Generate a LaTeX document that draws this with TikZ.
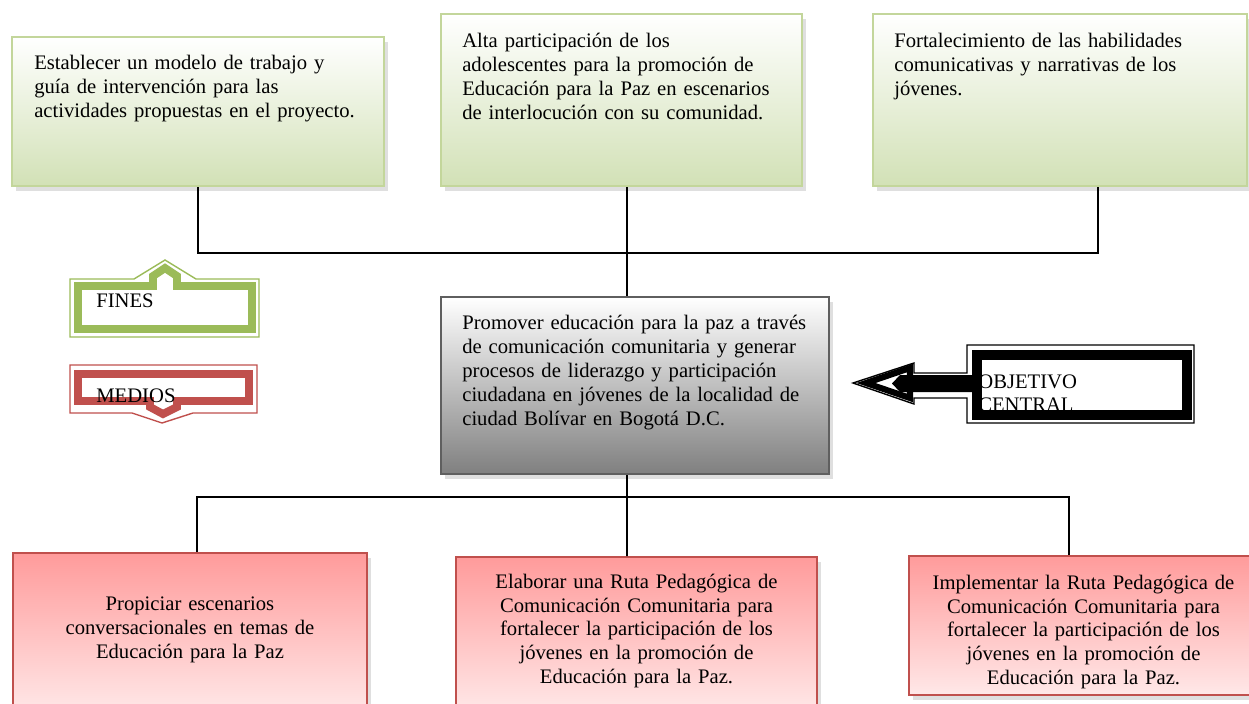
\documentclass[tikz,border=0pt]{standalone}
\usepackage{fontspec}
\setmainfont{Liberation Serif}
\usetikzlibrary{shadows}

\definecolor{fingreen}{RGB}{155,187,89}
\definecolor{finborder}{RGB}{195,214,155}
\definecolor{finbottom}{RGB}{210,225,182}
\definecolor{medred}{RGB}{192,80,77}
\definecolor{medtop}{RGB}{255,155,155}
\definecolor{medbottom}{RGB}{255,232,232}
\definecolor{objborder}{RGB}{95,95,95}

\tikzset{
	boxshadow/.style={drop shadow={shadow xshift=2.5pt, shadow yshift=-3pt, opacity=.25}},
	finbox/.style={draw=finborder, line width=1.2pt, top color=white, bottom color=finbottom, boxshadow},
	objbox/.style={draw=objborder, line width=1.2pt, top color=white, bottom color=black!50, boxshadow},
	medbox/.style={draw=medred, line width=1pt, top color=medtop, bottom color=medbottom, boxshadow},
	boxtext/.style={font=\fontsize{11.75}{13.6}\selectfont, inner sep=0pt, anchor=base west, align=left, text width=7.2cm},
	medtext/.style={font=\fontsize{11.75}{13.6}\selectfont, inner sep=0pt, anchor=base, align=center, text width=6.8cm},
	conn/.style={draw, line width=1.1pt},
}

\begin{document}
\begin{tikzpicture}[x=0.02cm, y=-0.02cm]
	\useasboundingbox (0,0) rectangle (1249,704);

	%fines
	\node[finbox, minimum width=7.44cm, minimum height=2.98cm] (fin1) at (198,111.5) {};
	\node[finbox, minimum width=7.22cm, minimum height=3.44cm] (fin2) at (621.5,100) {};
	\node[finbox, minimum width=7.48cm, minimum height=3.44cm] (fin3) at (1060,100) {};
	\node[boxtext] (fin1txt) at ([shift={(0.46cm,-0.68cm)}]fin1.north west) {Establecer un modelo de trabajo y\\ guía de intervención para las\\ actividades propuestas en el proyecto.};
	\node[boxtext] (fin2txt) at ([shift={(0.44cm,-0.7cm)}]fin2.north west) {Alta participación de los\\ adolescentes para la promoción de\\ Educación para la Paz en escenarios\\ de interlocución con su comunidad.};
	\node[boxtext] (fin3txt) at ([shift={(0.44cm,-0.7cm)}]fin3.north west) {Fortalecimiento de las habilidades\\ comunicativas y narrativas de los\\ jóvenes.};

	%objetivo
	\node[objbox, minimum width=7.76cm, minimum height=3.54cm] (obj) at (635,385.5) {};
	\node[boxtext] (objtxt) at ([shift={(0.44cm,-0.68cm)}]obj.north west) {Promover educación para la paz a través\\ de comunicación comunitaria y generar\\ procesos de liderazgo y participación\\ ciudadana en jóvenes de la localidad de\\ ciudad Bolívar en Bogotá D.C.};

	%medios
	\node[medbox, minimum width=7.08cm, minimum height=3.2cm] (med1) at (190,633) {};
	\node[medbox, minimum width=7.22cm, minimum height=3.1cm] (med2) at (636.5,634.5) {};
	\node[medbox, minimum width=6.84cm, minimum height=2.78cm] (med3) at (1080,625.5) {};
	\node[medtext] (med1txt) at ([yshift=-1.17cm]med1.north) {Propiciar escenarios\\ conversacionales en temas de\\ Educación para la Paz};
	\node[medtext] (med2txt) at ([yshift=-0.64cm]med2.north) {Elaborar una Ruta Pedagógica de\\ Comunicación Comunitaria para\\ fortalecer la participación de los\\ jóvenes en la promoción de\\ Educación para la Paz.};
	\node[medtext] (med3txt) at ([shift={(0.07cm,-0.68cm)}]med3.north) {Implementar la Ruta Pedagógica de\\ Comunicación Comunitaria para\\ fortalecer la participación de los\\ jóvenes en la promoción de\\ Educación para la Paz.};

	%connectors
	\coordinate (finbus) at (627,253);
	\coordinate (medbus) at (627,497);
	\draw[conn] (fin1.south) |- (finbus);
	\draw[conn] ([xshift=0.76cm]fin3.south) |- (finbus);
	\draw[conn] ([xshift=0.11cm]fin2.south) -- ([xshift=-0.16cm]obj.north);
	\draw[conn] ([xshift=-0.16cm]obj.south) -- ([xshift=-0.19cm]med2.north);
	\draw[conn] ([xshift=0.14cm]med1.north) |- (medbus);
	\draw[conn] ([xshift=-0.22cm]med3.north) |- (medbus);

	%legend arrows
	\draw[fingreen, line width=0.8pt, fill=white] (70,279) -- (134,279) -- (165,260) -- (196,279) -- (259,279) -- (259,337) -- (70,337) -- cycle;
	\draw[fingreen, line width=4.5pt, fill=white] (78,286) -- (153,286) -- (153,276) -- (165,268) -- (177,276) -- (177,286) -- (252,286) -- (252,329) -- (78,329) -- cycle;
	\draw[medred, line width=0.8pt, fill=white] (70,365) -- (257,365) -- (257,413) -- (193,413) -- (162,423) -- (132,413) -- (70,413) -- cycle;
	\draw[medred, line width=4.5pt, fill=white] (78,374) -- (249,374) -- (249,401) -- (177,401) -- (177,407) -- (163,414) -- (150,407) -- (150,401) -- (78,401) -- cycle;
	\draw[line width=0.8pt, fill=white] (967,345) -- (1194,345) -- (1194,423) -- (967,423) -- (967,398) -- (914,398) -- (914,404) -- (853,383) -- (914,363) -- (914,373) -- (967,373) -- cycle;
	\draw[line width=5.5pt] (977,355) rectangle (1187,415);
	\draw[line width=3.5pt, fill=white] (910,368) -- (866,383) -- (910,398) -- cycle;
	\fill (977,375) -- (900,375) -- (892,383.5) -- (900,392) -- (977,392) -- cycle;

	%labels
	\node[boxtext, text width=3cm] (fines) at (96,307) {FINES};
	\node[boxtext, text width=3cm] (medios) at (96,402) {MEDIOS};
	\node[boxtext, text width=3.8cm] (central) at (978,388) {OBJETIVO\\ CENTRAL};
\end{tikzpicture}
\end{document}
